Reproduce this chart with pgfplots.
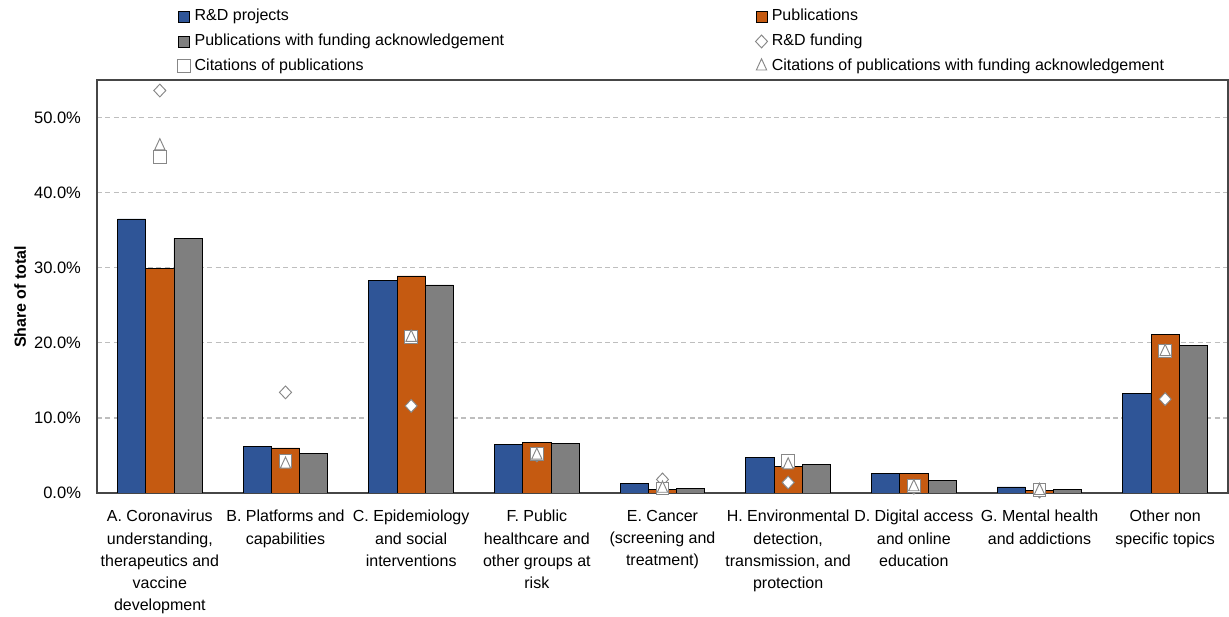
\documentclass[border=0pt]{standalone}
\usepackage{pgfplots}
\usepackage{pgfplotstable}
\pgfplotsset{compat=1.18}
\usepackage{fontspec}
\setmainfont{Liberation Sans}

\definecolor{rdblue}{RGB}{47,85,151}
\definecolor{puborange}{RGB}{197,90,17}
\definecolor{pubgray}{RGB}{127,127,127}
\definecolor{markgray}{RGB}{135,135,135}
\definecolor{gridgray}{RGB}{190,190,190}
\definecolor{framegray}{RGB}{70,70,70}

% Share of total (%) by topic
% rd = R&D projects, pub = publications, pubf = publications with funding acknowledgement,
% fund = R&D funding, cit = citations of publications, citf = citations of publications with funding ack.
\pgfplotstableread{
x rd   pub  pubf fund cit  citf
0 36.5 29.9 33.9 53.6 44.8 46.2
1 6.2  6.0  5.3  13.4 4.3  3.8
2 28.3 28.9 27.7 11.6 20.8 20.7
3 6.5  6.7  6.6  5.0  5.2  5.0
4 1.3  0.5  0.6  1.8  0.6  0.6
5 4.7  3.5  3.8  1.4  4.3  3.7
6 2.6  2.6  1.7  0.7  0.9  0.8
7 0.8  0.3  0.45 0.2  0.4  0.3
8 13.2 21.1 19.6 12.5 18.9 18.8
}\shares

\pgfplotsset{
  barentry/.style={
    legend image code/.code={\draw[##1] (0pt,-4.1pt) rectangle (8.2pt,4.1pt);}},
  markentry/.style={
    legend image code/.code={\draw[##1] plot coordinates {(4.1pt,0pt)};}},
}

\begin{document}
\begin{tikzpicture}
\begin{axis}[
  at={(0pt,0pt)}, anchor=south west,
  scale only axis, width=848.25pt, height=309.75pt,
  xmin=-0.5, xmax=8.5, ymin=0, ymax=55,
  xtick={0,...,8},
  xticklabels={
    {A. Coronavirus\\understanding,\\therapeutics and\\vaccine\\development},
    {B. Platforms and\\capabilities},
    {C. Epidemiology\\and social\\interventions},
    {F. Public\\healthcare and\\other groups at\\risk},
    {E. Cancer\\(screening and\\treatment)},
    {H. Environmental\\detection,\\transmission, and\\protection},
    {D. Digital access\\and online\\education},
    {G. Mental health\\and addictions},
    {Other non\\specific topics}},
  ytick={0,10,...,50},
  yticklabel={\pgfmathprintnumber[fixed,fixed zerofill,precision=1]{\tick}\%},
  /pgf/number format/assume math mode=true,
  major tick length=0pt,
  ymajorgrids,
  grid style={gridgray, line width=0.9pt, dash pattern=on 3.75pt off 2.6pt},
  axis line style={framegray, line width=0.9pt},
  xticklabel style={align=center, font=\fontsize{12}{16.6}\selectfont, yshift=-9.5pt},
  yticklabel style={font=\fontsize{12.4}{14}\selectfont, xshift=-8.5pt},
  ylabel={Share of total},
  ylabel style={font=\fontsize{12}{14}\selectfont\bfseries,
    at={(axis description cs:-0.068,0.475)}, anchor=center},
  legend columns=2,
  legend cell align=left,
  legend style={
    at={(rel axis cs:0.0675,1.185)}, anchor=north west,
    draw=none, fill=none,
    font=\fontsize{12}{13.5}\selectfont,
    nodes={inner sep=2pt, text height=8.7pt, text depth=2.5pt},
    row sep=3.4pt,
    /tikz/every odd column/.append style={column sep=1.2pt},
    /tikz/every even column/.append style={column sep=186.5pt},
  },
]
% bars: three series side by side around each category
\addplot[barentry, ybar, bar width=0.2245, bar shift=-0.2245,
  fill=rdblue, draw=black, line width=0.6pt]
  table[x=x, y=rd]{\shares};
\addlegendentry{R\&D projects}
\addplot[barentry, ybar, bar width=0.2245, bar shift=0,
  fill=puborange, draw=black, line width=0.6pt]
  table[x=x, y=pub]{\shares};
\addlegendentry{Publications}
\addplot[barentry, ybar, bar width=0.2245, bar shift=0.2245,
  fill=pubgray, draw=black, line width=0.6pt]
  table[x=x, y=pubf]{\shares};
\addlegendentry{Publications with funding acknowledgement}
% markers over the middle bar
\addplot[markentry, only marks, mark=diamond*, mark size=4.8pt,
  mark options={fill=white, draw=markgray, line width=0.7pt, xscale=1.25}]
  table[x=x, y=fund]{\shares};
\addlegendentry{R\&D funding}
\addplot[markentry, only marks, mark=square*, mark size=4.8pt,
  mark options={fill=white, draw=markgray, line width=0.7pt}]
  table[x=x, y=cit]{\shares};
\addlegendentry{Citations of publications}
\addplot[markentry, only marks, mark=triangle*, mark size=5.6pt,
  mark options={fill=white, draw=markgray, line width=0.7pt, xscale=0.8}]
  table[x=x, y=citf]{\shares};
\addlegendentry{Citations of publications with funding acknowledgement}
\end{axis}
\pgfresetboundingbox
\path (-72.75pt,-93pt) rectangle (849pt,369.75pt);
\end{tikzpicture}
\end{document}
